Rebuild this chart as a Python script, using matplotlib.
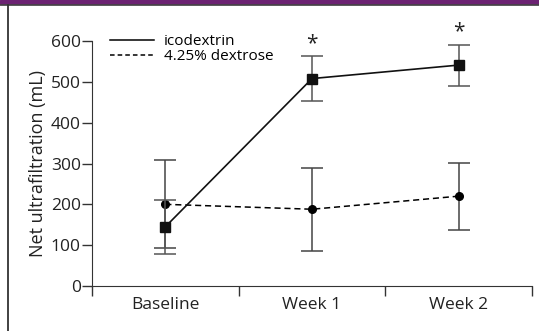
import matplotlib.pyplot as plt
from matplotlib.patches import Rectangle
from matplotlib.lines import Line2D

plt.rcParams['font.family'] = ['Open Sans', 'DejaVu Sans']

categories = ['Baseline', 'Week 1', 'Week 2']
icodextrin = [145, 508, 541]
icodextrin_err = [66, 55, 50]
dextrose = [200, 188, 220]
dextrose_err = [108, 102, 82]
significant = [False, True, True]

fig = plt.figure(figsize=(5.39, 3.31), dpi=100)
W, H = 539, 331
ax = fig.add_axes([92 / W, 1 - 286 / H, 440 / W, 245 / H])

x = list(range(len(categories)))

ax.errorbar(x, dextrose, yerr=dextrose_err, color='black', ls='--', lw=1.1,
            dashes=(4, 2.5), marker='o', ms=5.5, ecolor='#444444', elinewidth=1.1,
            capsize=8, capthick=1.1, label='4.25% dextrose', zorder=3)
ax.errorbar(x, icodextrin, yerr=icodextrin_err, color='#111111', ls='-', lw=1.2,
            marker='s', ms=6.5, ecolor='#555555', elinewidth=1.1,
            capsize=8, capthick=1.1, label='icodextrin', zorder=4)

for xi, v, e, s in zip(x, icodextrin, icodextrin_err, significant):
    if s:
        ax.text(xi, v + e + 5, '*', ha='center', va='bottom', fontsize=15,
                color='#222222', clip_on=False)

ax.set_xlim(-0.5, 2.5)
ax.set_ylim(0, 600)
ax.set_yticks(range(0, 601, 100))
ax.set_xticks([-0.5, 0.5, 1.5, 2.5])
ax.set_xticklabels([])
ax.set_xticks(x, minor=True)
ax.set_xticklabels(categories, minor=True)
ax.tick_params(axis='x', which='minor', length=0, pad=8, labelsize=12.5)
ax.tick_params(axis='x', which='major', length=7, width=1, color='#333333')
ax.tick_params(axis='y', length=7, width=1, color='#333333', labelsize=12.5, pad=1)
for lab in ax.get_xticklabels(minor=True) + ax.get_yticklabels():
    lab.set_color('#222222')
ax.spines['top'].set_visible(False)
ax.spines['right'].set_visible(False)
ax.spines['left'].set_color('#333333')
ax.spines['bottom'].set_color('#333333')
ax.set_ylabel('Net ultrafiltration (mL)', fontsize=13, color='#222222', labelpad=3)

handles = [Line2D([0], [0], color='black', lw=1.1, ls='-'),
           Line2D([0], [0], color='black', lw=1.1, ls='--', dashes=(3, 2))]
ax.legend(handles, ['icodextrin', '4.25% dextrose'], loc='upper left',
          bbox_to_anchor=(0.01, 1.085), frameon=False, fontsize=11,
          handlelength=2.9, handletextpad=0.6, labelspacing=0.0)

# frame decorations
fig.patches.append(Rectangle((0, 1 - 3.5 / H), 1, 3.5 / H, transform=fig.transFigure,
                             color='#6b2272', zorder=0))
fig.lines.append(Line2D([0, 1], [1 - 4.5 / H, 1 - 4.5 / H], transform=fig.transFigure,
                        color='#444444', lw=1.2))
fig.lines.append(Line2D([7.5 / W, 7.5 / W], [0, 1 - 4.5 / H], transform=fig.transFigure,
                        color='#333333', lw=1.3))

fig.savefig('out.png', dpi=100)
